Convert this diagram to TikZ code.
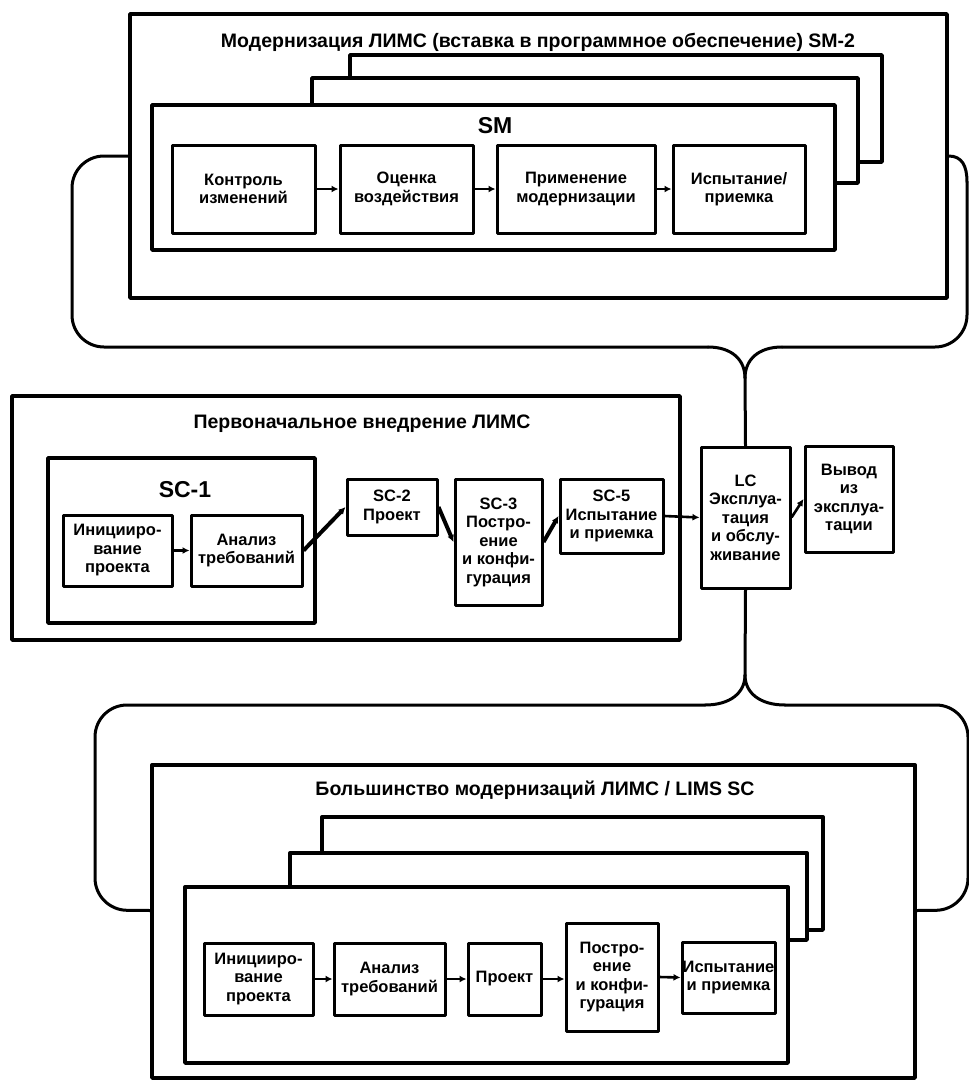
\documentclass[tikz,border=0pt]{standalone}
\usepackage{fontspec}
\setmainfont{Liberation Sans}
\usetikzlibrary{arrows.meta}
\begin{document}
\begin{tikzpicture}[x=1pt,y=-1pt,line join=round,>={Latex[length=7pt,width=7pt]},
	frame/.style={draw,line width=3.4pt,inner sep=0pt,fill=white},
	blk/.style={draw,line width=3pt,inner sep=0pt,fill=white,align=center,font=\fontsize{16.5}{18.5}\selectfont\bfseries},
	ttl/.style={font=\fontsize{19.5}{21}\selectfont\bfseries},
	big/.style={font=\fontsize{23}{25}\selectfont\bfseries},
	bline/.style={line width=3pt,line cap=round},
	brc/.style={bline,rounded corners=32pt},
	lnk/.style={line width=2.6pt,->},
	dlnk/.style={line width=4pt,->}]
	\useasboundingbox (0,0) rectangle (969,1082);
	% top part: SM-2
	\node[frame,minimum width=817pt,minimum height=284pt] (sm2) at (538.5,156) {};
	\node[ttl] (sm2t) at (538,42) {Модернизация ЛИМС (вставка в программное обеспечение) SM-2};
	\node[frame,minimum width=532pt,minimum height=107pt] (smc) at (616,108.5) {};
	\node[frame,minimum width=546pt,minimum height=105pt] (smb) at (585,130.5) {};
	\node[frame,minimum width=683pt,minimum height=145pt] (sm) at (493.5,177.5) {};
	\node[big] (smt) at (495,126) {SM};
	\node[blk,minimum width=143pt,minimum height=88pt] (ctl) at (243.5,189) {Контроль\\изменений};
	\node[blk,minimum width=133pt,minimum height=88pt] (est) at (406.5,189) {Оценка\\воздействия};
	\node[blk,minimum width=158pt,minimum height=88pt] (app) at (576,189) {Применение\\модернизации};
	\node[blk,minimum width=132pt,minimum height=88pt] (acc) at (739,189) {Испытание/\\приемка};
	\draw[lnk] (ctl) -- (est);
	\draw[lnk] (est) -- (app);
	\draw[lnk] (app) -- (acc);
	% middle part
	\node[frame,minimum width=668pt,minimum height=244pt] (init) at (346,518) {};
	\node[ttl] (initt) at (362,424) {Первоначальное внедрение ЛИМС};
	\node[frame,minimum width=267pt,minimum height=165pt] (sc1) at (181.5,540.5) {};
	\node[big] (sc1t) at (185,490) {SC-1};
	\node[blk,minimum width=109pt,minimum height=71pt] (ini) at (117.5,550.5) {Иницииро-\\вание\\проекта};
	\node[blk,minimum width=111pt,minimum height=71pt] (req) at (246.5,550.5) {Анализ\\требований};
	\node[blk,minimum width=90pt,minimum height=56pt] (sc2) at (392,507) {SC-2\\Проект};
	\node[blk,minimum width=87pt,minimum height=126pt] (sc3) at (498.5,542) {SC-3\\Постро-\\ение\\и конфи-\\гурация};
	\node[blk,minimum width=103pt,minimum height=74pt] (sc5) at (611.5,516) {SC-5\\Испытание\\и приемка};
	\node[blk,minimum width=89pt,minimum height=141pt] (lc) at (745.5,517.5) {LC\\Эксплуа-\\тация\\и обслу-\\живание};
	\node[blk,minimum width=88pt,minimum height=106pt] (out) at (849,499) {Вывод\\из\\эксплуа-\\тации};
	\draw[lnk] (ini) -- (req);
	\draw[dlnk] (req.east) -- (sc2.west);
	\draw[dlnk] (sc2.east) -- (sc3.west);
	\draw[dlnk] (sc3.east) -- (sc5.west);
	\draw[lnk] (sc5.east) -- (lc.west);
	\draw[lnk] (lc.east) -- (out.west);
	% bottom part
	\node[frame,minimum width=763pt,minimum height=313pt] (lims) at (533.5,921.5) {};
	\node[ttl] (limst) at (535,790) {Большинство модернизаций ЛИМС / LIMS SC};
	\node[frame,minimum width=501pt,minimum height=113pt] (lc3) at (572.5,873.5) {};
	\node[frame,minimum width=517pt,minimum height=87pt] (lc2) at (548.5,896.5) {};
	\node[frame,minimum width=603pt,minimum height=176pt] (lc1) at (486.5,975) {};
	\node[blk,minimum width=109pt,minimum height=72pt] (bini) at (258.5,979) {Иницииро-\\вание\\проекта};
	\node[blk,minimum width=111pt,minimum height=72pt] (breq) at (389.5,979) {Анализ\\требований};
	\node[blk,minimum width=73pt,minimum height=72pt] (bprj) at (504.5,979) {Проект};
	\node[blk,minimum width=92pt,minimum height=108pt] (bcfg) at (612,977) {Постро-\\ение\\и конфи-\\гурация};
	\node[blk,minimum width=93pt,minimum height=71pt] (btst) at (728.5,977.5) {Испытание\\и приемка};
	\draw[lnk] (bini) -- (breq);
	\draw[lnk] (breq) -- (bprj);
	\draw[lnk] (bprj.east) -- (bcfg.west |- bprj.east);
	\draw[lnk] (bcfg.east) -- (btst.west);
	% brackets
	\coordinate (ltop) at (745,378);
	\coordinate (tl) at (708,347);
	\coordinate (tr) at (782,347);
	\coordinate (lbot) at (745,675);
	\coordinate (bl) at (705,705);
	\coordinate (br) at (785,705);
	\draw[brc] (sm2.west) -- (72,156) -- (72,347) -- (tl);
	\draw[bline] (sm2.east) .. controls (962,156) and (967,166) .. (967,182);
	\draw[brc] (967,182) -- (967,347) -- (tr);
	\draw[bline] (tl) .. controls (732,347) and (745,360) .. (ltop);
	\draw[bline] (tr) .. controls (758,347) and (745,360) .. (ltop);
	\draw[bline] (ltop) -- (lc.north);
	\draw[bline] (lc.south) -- (lbot);
	\draw[bline] (lbot) .. controls (745,693) and (730,705) .. (bl);
	\draw[bline] (lbot) .. controls (745,693) and (760,705) .. (br);
	\draw[brc] (bl) -- (95,705) -- (95,910) -- ([yshift=11pt]lims.west);
	\draw[brc] (br) -- (968,705) -- (968,910) -- ([yshift=11pt]lims.east);
\end{tikzpicture}
\end{document}
